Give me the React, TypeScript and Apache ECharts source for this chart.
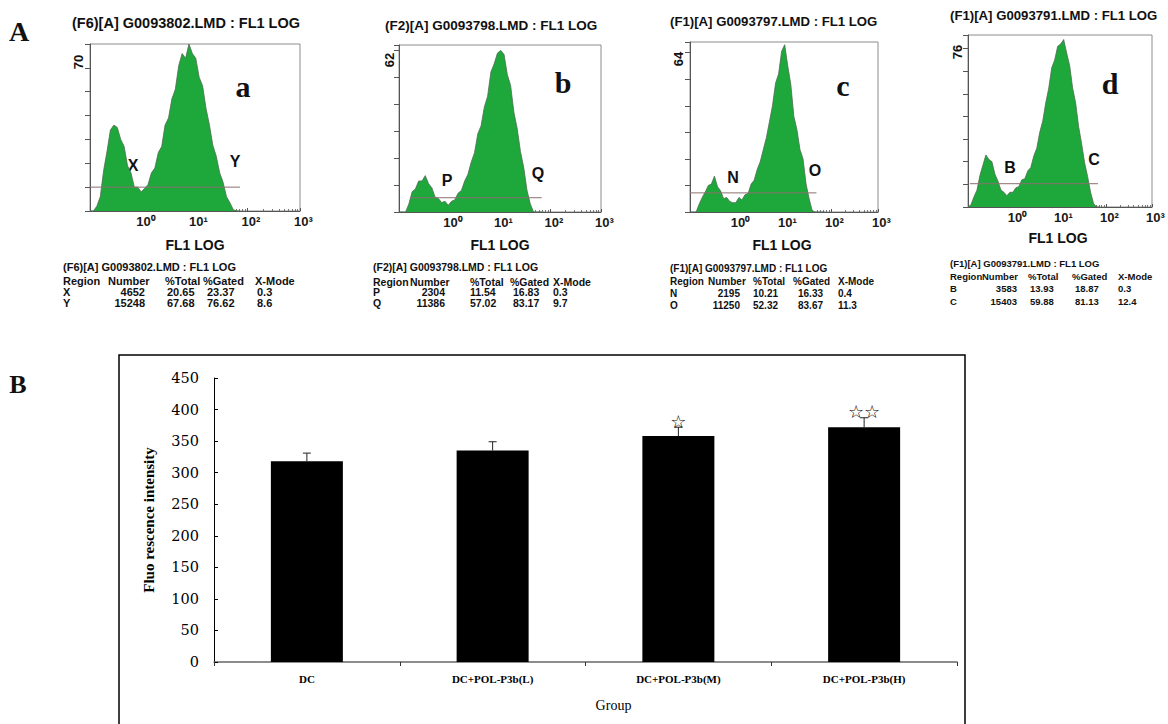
import { useEffect, useRef } from 'react';
import * as echarts from 'echarts';

// ---------- Panel A: flow cytometry histograms ----------
// FL1 LOG channel values (fluorescence intensity)
const channels = [0.1, 0.116, 0.135, 0.157, 0.182, 0.211, 0.245, 0.285, 0.331, 0.385, 0.447, 0.519, 0.603, 0.7, 0.813, 0.944, 1.1, 1.27, 1.48, 1.72, 2.0, 2.32, 2.69, 3.13, 3.63, 4.22, 4.9, 5.69, 6.61, 7.67, 8.91, 10.35, 12.02, 13.96, 16.22, 18.84, 21.88, 25.41, 29.51, 34.28, 39.81, 46.24, 53.7, 62.37, 72.44];
const countsA = [0, 0, 2, 6, 17, 25, 34, 36, 35, 30, 27, 19, 16, 10, 10, 8, 9.5, 11, 16, 18, 24.5, 27, 36, 39, 47, 51, 61, 66, 64, 70, 66, 64, 56, 52.5, 43, 36, 27.5, 23, 16, 12, 6, 3.5, 0.5, 0, 0];
const countsB = [0, 0, 0, 3, 7.5, 8.5, 11.5, 11.5, 13.5, 10.5, 9, 5.5, 5, 3.5, 4, 2.5, 4, 4.5, 7, 8, 11.5, 14, 18.5, 22, 29, 32, 39, 43, 52, 55, 59, 60, 58.5, 51, 47, 37, 31, 22.5, 16.5, 8, 3, 0, 0, 0, 0];
const countsC = [0, 0, 0, 3, 5.5, 7.5, 10, 10.5, 13.5, 9.5, 8, 5, 5.5, 4, 3.5, 3.5, 5.5, 4.5, 6.5, 7, 10.5, 12, 16, 19, 23.5, 28, 34, 40, 48.5, 52, 60.5, 63, 55, 48, 36, 31, 23.5, 20, 10.5, 5, 0.5, 0, 0, 0, 0];
const countsD = [0, 1, 4.5, 7.5, 14, 18.5, 23, 21, 20, 14.5, 11.5, 7.5, 6.5, 5, 6.5, 6.5, 8.5, 9, 12, 12.5, 16, 17.5, 22.5, 26, 33, 38, 46, 52.5, 61.5, 65, 71, 72, 74, 68, 62.5, 52.5, 46, 35.5, 28, 19.5, 13.5, 6.5, 1.5, 0, 0];
const histCounts = [countsA, countsB, countsC, countsD];
const fullScale = [70, 62, 64, 76];
const fileNames = ['(F6)[A] G0093802.LMD : FL1 LOG', '(F2)[A] G0093798.LMD : FL1 LOG', '(F1)[A] G0093797.LMD : FL1 LOG', '(F1)[A] G0093791.LMD : FL1 LOG'];
const panelLetters = ['a', 'b', 'c', 'd'];
const regionNames = [['X', 'Y'], ['P', 'Q'], ['N', 'O'], ['B', 'C']];
const regionNumber = [['4652', '15248'], ['2304', '11386'], ['2195', '11250'], ['3583', '15403']];
const regionTotal = [['20.65', '67.68'], ['11.54', '57.02'], ['10.21', '52.32'], ['13.93', '59.88']];
const regionGated = [['23.37', '76.62'], ['16.83', '83.17'], ['16.33', '83.67'], ['18.87', '81.13']];
const regionMode = [['0.3', '8.6'], ['0.3', '9.7'], ['0.4', '11.3'], ['0.3', '12.4']];
const tableHeader = ['Region', 'Number', '%Total', '%Gated', 'X-Mode'];
const gateLevel = [10, 5.3, 7.2, 10.3];
const gateRange = [[0.1, 72], [0.166, 67], [0.1, 49], [0.11, 67]];

// ---------- Panel B: bar chart ----------
const groups = ['DC', 'DC+POL-P3b(L)', 'DC+POL-P3b(M)', 'DC+POL-P3b(H)'];
const intensity = [318, 335, 358, 372];
const errors = [13, 14, 14, 15];
const signif = ['', '', '☆', '☆☆'];

// ---------- layout ----------
const histGrids = [
  { left: 90, top: 44, width: 210, height: 167 },
  { left: 399, top: 45, width: 202, height: 167 },
  { left: 690, top: 42, width: 188, height: 170 },
  { left: 968, top: 35, width: 184, height: 172 },
];
const titlePos = [[72, 23, 14.5], [385, 25, 13.5], [670, 21, 13.2], [950, 15, 13.2]];
const fl1Pos = [[195, 245], [500, 245], [782, 245], [1058, 238]];
const letterPos = [[243, 86], [563, 82], [843, 85], [1110, 83]];
const scalePos = [[78, 62], [389, 60], [678, 59], [957, 52]];
const regionLabelPos = [
  [[133, 165], [235, 161]],
  [[447, 180], [538, 173]],
  [[733, 177], [815, 170]],
  [[1010, 167], [1094, 159]],
];
const tables = [
  { fs: 11, title: [63, 267], hdrY: 280.5, rowY: [292, 303], hdrX: [63, 108, 165, 203, 255], valX: [63, 145, 167, 207, 257] },
  { fs: 10.5, title: [373, 267], hdrY: 281.5, rowY: [292.3, 303.3], hdrX: [373, 410, 470, 510, 553], valX: [373, 445, 470, 513, 553] },
  { fs: 10, title: [670, 268], hdrY: 281.7, rowY: [293.3, 305], hdrX: [670, 708, 753, 793, 838], valX: [670, 740, 753, 798, 838] },
  { fs: 9.5, title: [950, 263.3], hdrY: 276.7, rowY: [288.3, 301.7], hdrX: [950, 982, 1028, 1072, 1118], valX: [950, 1017, 1030, 1075, 1118] },
];

const sup = ['⁰', '¹', '²', '³'];
const SANS = '"Liberation Sans", Arial, sans-serif';
const SERIF = '"Liberation Serif", "Times New Roman", serif';

function txt(text: string, x: number, y: number, font: string, align = 'left', extra: any = {}) {
  return {
    type: 'text',
    x,
    y,
    silent: true,
    ...extra,
    style: {
      text,
      font,
      fill: '#111',
      align,
      verticalAlign: 'middle',
      textAlign: align,
      textVerticalAlign: 'middle',
    },
  };
}

export default function App() {
  const ref = useRef<HTMLDivElement>(null);
  useEffect(() => {
    if (!ref.current) return;
    const chart = echarts.init(ref.current, undefined, { renderer: 'svg' });

    const grids: any[] = histGrids.map((g) => ({ ...g, show: true, borderColor: '#8c8c8c', borderWidth: 1, backgroundColor: 'transparent' }));
    grids.push({ left: 214, top: 378, width: 743, height: 284 });

    const xAxes: any[] = histGrids.map((_, i) => ({
      type: 'log',
      logBase: 10,
      gridIndex: i,
      min: 0.1,
      max: 1000,
      axisLine: { show: true, lineStyle: { color: '#555', width: 1 } },
      axisTick: { show: true, inside: true, length: 3, lineStyle: { color: '#555' } },
      minorTick: { show: true, splitNumber: 9, length: 2, lineStyle: { color: '#777' } },
      splitLine: { show: false },
      axisLabel: {
        formatter: (v: number) => {
          const e = Math.round(Math.log10(v));
          return e >= 0 && e <= 3 ? '10' + sup[e] : '';
        },
        fontFamily: SANS,
        fontWeight: 'bold',
        fontSize: 13,
        color: '#1a1a1a',
        margin: 4,
        padding: [0, 0, 0, 7],
        showMinLabel: true,
        showMaxLabel: true,
      },
    }));
    xAxes.push({
      type: 'category',
      gridIndex: 4,
      data: groups,
      axisLine: { show: true, lineStyle: { color: '#666', width: 1.5 } },
      axisTick: { show: true, length: 4, lineStyle: { color: '#333' } },
      axisLabel: { fontFamily: SERIF, fontWeight: 'bold', fontSize: 11, color: '#000', margin: 11 },
      name: 'Group',
      nameLocation: 'middle',
      nameGap: 36,
      nameTextStyle: { fontFamily: SERIF, fontSize: 14, color: '#000', padding: [0, 0, 0, 56] },
    });

    const yAxes: any[] = histGrids.map((_, i) => ({
      type: 'value',
      gridIndex: i,
      min: 0,
      max: fullScale[i],
      interval: 10,
      axisLine: { show: true, lineStyle: { color: '#555', width: 1 } },
      axisTick: { show: true, length: 5, lineStyle: { color: '#555' } },
      axisLabel: { show: false },
      splitLine: { show: false },
    }));
    yAxes.push({
      type: 'value',
      gridIndex: 4,
      min: 0,
      max: 450,
      interval: 50,
      axisLine: { show: true, lineStyle: { color: '#000', width: 1 } },
      axisTick: { show: true, inside: true, length: 4, lineStyle: { color: '#000' } },
      axisLabel: { fontFamily: '"DejaVu Serif", serif', fontSize: 14.5, color: '#000', margin: 15 },
      splitLine: { show: false },
      name: 'Fluo rescence intensity',
      nameLocation: 'middle',
      nameGap: 58,
      nameRotate: 90,
      nameTextStyle: { fontFamily: SERIF, fontWeight: 'bold', fontSize: 15, color: '#000' },
    });

    const series: any[] = [];
    histCounts.forEach((counts, i) => {
      series.push({
        type: 'line',
        xAxisIndex: i,
        yAxisIndex: i,
        data: channels.map((c, j) => [c, counts[j]]),
        symbol: 'none',
        lineStyle: { color: '#4f6b52', width: 0.8 },
        areaStyle: { color: '#1ea83b', opacity: 1 },
        z: 2,
      });
      series.push({
        type: 'line',
        xAxisIndex: i,
        yAxisIndex: i,
        data: [[gateRange[i][0], gateLevel[i]], [gateRange[i][1], gateLevel[i]]],
        symbol: 'none',
        lineStyle: { color: '#8c7070', width: 1 },
        z: 3,
      });
    });
    series.push({
      type: 'bar',
      xAxisIndex: 4,
      yAxisIndex: 4,
      data: intensity,
      barWidth: 72,
      itemStyle: { color: '#000' },
      z: 2,
    });
    series.push({
      type: 'custom',
      xAxisIndex: 4,
      yAxisIndex: 4,
      data: groups.map((_, i) => [i, intensity[i], errors[i]]),
      z: 3,
      renderItem: (params: any, api: any) => {
        const idx = api.value(0);
        const v = api.value(1);
        const e = api.value(2);
        const p0 = api.coord([idx, v]);
        const p1 = api.coord([idx, v + e]);
        const star = signif[params.dataIndex];
        const children: any[] = [
          { type: 'line', shape: { x1: p0[0], y1: p0[1], x2: p1[0], y2: p1[1] }, style: { stroke: '#222', lineWidth: 1 } },
          { type: 'line', shape: { x1: p1[0] - 4, y1: p1[1], x2: p1[0] + 4, y2: p1[1] }, style: { stroke: '#222', lineWidth: 1 } },
        ];
        if (star) {
          children.push({
            type: 'text',
            x: p1[0],
            y: p1[1] - 6,
            style: {
              text: star,
              font: '18px "DejaVu Sans", sans-serif',
              fill: '#000',
              align: 'center',
              verticalAlign: 'middle',
              textAlign: 'center',
              textVerticalAlign: 'middle',
            },
          });
        }
        return { type: 'group', children };
      },
    });

    const graphics: any[] = [];
    graphics.push(txt('A', 19, 31, `bold 28px ${SERIF}`, 'center'));
    graphics.push(txt('B', 18, 384, `bold 26px ${SERIF}`, 'center'));
    graphics.push({
      type: 'polyline',
      silent: true,
      shape: { points: [[119, 726], [119, 355], [965, 355], [965, 726]] },
      style: { fill: 'none', stroke: '#000', lineWidth: 1.5 },
    });
    for (let i = 0; i < 4; i++) {
      graphics.push(txt(fileNames[i], titlePos[i][0], titlePos[i][1], `bold ${titlePos[i][2]}px ${SANS}`));
      graphics.push(txt('FL1 LOG', fl1Pos[i][0], fl1Pos[i][1], `bold 14px ${SANS}`, 'center'));
      graphics.push(txt(panelLetters[i], letterPos[i][0], letterPos[i][1], `bold 30px ${SERIF}`, 'center'));
      graphics.push(txt(String(fullScale[i]), scalePos[i][0], scalePos[i][1], `bold 13px ${SANS}`, 'center', { rotation: Math.PI / 2 }));
      for (let r = 0; r < 2; r++) {
        graphics.push(txt(regionNames[i][r], regionLabelPos[i][r][0], regionLabelPos[i][r][1], `bold 16px ${SANS}`, 'center'));
      }
      const t = tables[i];
      const f = `bold ${t.fs}px ${SANS}`;
      graphics.push(txt(fileNames[i], t.title[0], t.title[1], f));
      tableHeader.forEach((h, k) => graphics.push(txt(h, t.hdrX[k], t.hdrY, f)));
      for (let r = 0; r < 2; r++) {
        const y = t.rowY[r];
        graphics.push(txt(regionNames[i][r], t.valX[0], y, f));
        graphics.push(txt(regionNumber[i][r], t.valX[1], y, f, 'right'));
        graphics.push(txt(regionTotal[i][r], t.valX[2], y, f));
        graphics.push(txt(regionGated[i][r], t.valX[3], y, f));
        graphics.push(txt(regionMode[i][r], t.valX[4], y, f));
      }
    }

    chart.setOption({
      animation: false,
      backgroundColor: '#fff',
      grid: grids,
      xAxis: xAxes,
      yAxis: yAxes,
      series,
      graphic: graphics,
    });
    return () => chart.dispose();
  }, []);
  return <div ref={ref} style={{ position: 'fixed', left: 0, top: 0, width: 1168, height: 724, background: '#fff' }} />;
}
